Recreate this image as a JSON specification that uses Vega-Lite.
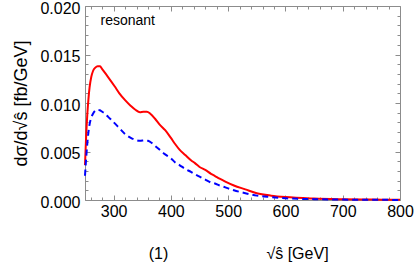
{
  "$schema": "https://vega.github.io/schema/vega-lite/v6.json",
  "width": 315,
  "height": 194,
  "autosize": "none",
  "padding": {"left": 85, "top": 6, "right": 15, "bottom": 67},
  "config": {
    "font": "Liberation Sans",
    "view": {"stroke": "#8c8c8c", "strokeWidth": 1},
    "axis": {
      "zindex": 1,
      "domain": false,
      "ticks": false,
      "domainColor": "#8c8c8c",
      "tickColor": "#8c8c8c",
      "tickWidth": 1,
      "labelColor": "#000000",
      "titleColor": "#000000",
      "labelFont": "Liberation Sans",
      "titleFont": "Liberation Sans",
      "labelFontSize": 16,
      "titleFontSize": 16,
      "titleFontWeight": "normal",
      "grid": false
    }
  },
  "data": {
    "values": [
      {"s": 250, "v": 0.0036, "curve": "a"},
      {"s": 252, "v": 0.0066, "curve": "a"},
      {"s": 254, "v": 0.0088, "curve": "a"},
      {"s": 256, "v": 0.0104, "curve": "a"},
      {"s": 258, "v": 0.0116, "curve": "a"},
      {"s": 261, "v": 0.0127, "curve": "a"},
      {"s": 264, "v": 0.0133, "curve": "a"},
      {"s": 268, "v": 0.01365, "curve": "a"},
      {"s": 272, "v": 0.0138, "curve": "a"},
      {"s": 276, "v": 0.01378, "curve": "a"},
      {"s": 280, "v": 0.0135, "curve": "a"},
      {"s": 285, "v": 0.0131, "curve": "a"},
      {"s": 290, "v": 0.0127, "curve": "a"},
      {"s": 302, "v": 0.0117, "curve": "a"},
      {"s": 310, "v": 0.011, "curve": "a"},
      {"s": 320, "v": 0.0103, "curve": "a"},
      {"s": 330, "v": 0.0097, "curve": "a"},
      {"s": 338, "v": 0.0093, "curve": "a"},
      {"s": 346, "v": 0.00905, "curve": "a"},
      {"s": 352, "v": 0.0091, "curve": "a"},
      {"s": 358, "v": 0.0091, "curve": "a"},
      {"s": 364, "v": 0.0089, "curve": "a"},
      {"s": 372, "v": 0.0084, "curve": "a"},
      {"s": 380, "v": 0.0078, "curve": "a"},
      {"s": 390, "v": 0.0072, "curve": "a"},
      {"s": 400, "v": 0.0064, "curve": "a"},
      {"s": 407, "v": 0.0058, "curve": "a"},
      {"s": 415, "v": 0.0052, "curve": "a"},
      {"s": 425, "v": 0.00464, "curve": "a"},
      {"s": 435, "v": 0.0041, "curve": "a"},
      {"s": 442, "v": 0.0038, "curve": "a"},
      {"s": 450, "v": 0.0034, "curve": "a"},
      {"s": 460, "v": 0.0031, "curve": "a"},
      {"s": 470, "v": 0.0027, "curve": "a"},
      {"s": 477, "v": 0.00247, "curve": "a"},
      {"s": 485, "v": 0.0022, "curve": "a"},
      {"s": 495, "v": 0.0019, "curve": "a"},
      {"s": 510, "v": 0.0015, "curve": "a"},
      {"s": 530, "v": 0.0011, "curve": "a"},
      {"s": 550, "v": 0.0007, "curve": "a"},
      {"s": 575, "v": 0.00045, "curve": "a"},
      {"s": 600, "v": 0.0003, "curve": "a"},
      {"s": 650, "v": 0.00015, "curve": "a"},
      {"s": 700, "v": 0.00008, "curve": "a"},
      {"s": 750, "v": 0.00004, "curve": "a"},
      {"s": 800, "v": 0.00002, "curve": "a"},
      {"s": 250, "v": 0.0025, "curve": "b"},
      {"s": 252, "v": 0.0043, "curve": "b"},
      {"s": 254, "v": 0.0058, "curve": "b"},
      {"s": 256, "v": 0.007, "curve": "b"},
      {"s": 258, "v": 0.0078, "curve": "b"},
      {"s": 261, "v": 0.0085, "curve": "b"},
      {"s": 264, "v": 0.0089, "curve": "b"},
      {"s": 268, "v": 0.0092, "curve": "b"},
      {"s": 272, "v": 0.0093, "curve": "b"},
      {"s": 276, "v": 0.00925, "curve": "b"},
      {"s": 280, "v": 0.0091, "curve": "b"},
      {"s": 285, "v": 0.0089, "curve": "b"},
      {"s": 290, "v": 0.0086, "curve": "b"},
      {"s": 302, "v": 0.0079, "curve": "b"},
      {"s": 310, "v": 0.0074, "curve": "b"},
      {"s": 320, "v": 0.0068, "curve": "b"},
      {"s": 330, "v": 0.0064, "curve": "b"},
      {"s": 338, "v": 0.0062, "curve": "b"},
      {"s": 346, "v": 0.0061, "curve": "b"},
      {"s": 354, "v": 0.00615, "curve": "b"},
      {"s": 360, "v": 0.0061, "curve": "b"},
      {"s": 366, "v": 0.0059, "curve": "b"},
      {"s": 372, "v": 0.0056, "curve": "b"},
      {"s": 380, "v": 0.0052, "curve": "b"},
      {"s": 390, "v": 0.0047, "curve": "b"},
      {"s": 400, "v": 0.0043, "curve": "b"},
      {"s": 407, "v": 0.0039, "curve": "b"},
      {"s": 415, "v": 0.0036, "curve": "b"},
      {"s": 425, "v": 0.0032, "curve": "b"},
      {"s": 435, "v": 0.0029, "curve": "b"},
      {"s": 442, "v": 0.00265, "curve": "b"},
      {"s": 450, "v": 0.0024, "curve": "b"},
      {"s": 460, "v": 0.0021, "curve": "b"},
      {"s": 470, "v": 0.0018, "curve": "b"},
      {"s": 477, "v": 0.0017, "curve": "b"},
      {"s": 485, "v": 0.0015, "curve": "b"},
      {"s": 495, "v": 0.0013, "curve": "b"},
      {"s": 510, "v": 0.001, "curve": "b"},
      {"s": 530, "v": 0.0007, "curve": "b"},
      {"s": 550, "v": 0.00045, "curve": "b"},
      {"s": 575, "v": 0.0003, "curve": "b"},
      {"s": 600, "v": 0.00018, "curve": "b"},
      {"s": 650, "v": 0.00009, "curve": "b"},
      {"s": 700, "v": 0.00004, "curve": "b"},
      {"s": 750, "v": 0.00002, "curve": "b"},
      {"s": 800, "v": 0.00001, "curve": "b"}
    ]
  },
  "layer": [
    {
      "transform": [{"filter": "datum.curve === 'a'"}],
      "mark": {"type": "line", "color": "#ff0000", "strokeWidth": 2, "interpolate": "monotone"},
      "encoding": {
        "x": {
          "field": "s", "type": "quantitative",
          "scale": {"domain": [250, 800], "nice": false, "zero": false},
          "axis": {
            "orient": "bottom", "domain": true,
            "values": [300, 400, 500, 600, 700, 800],
            "labelPadding": 3, "labelFlush": false,
            "title": "√ŝ [GeV]", "titleX": 212, "titleY": 58, "titleBaseline": "alphabetic", "titleAlign": "center"
          }
        },
        "y": {
          "field": "v", "type": "quantitative",
          "scale": {"domain": [0, 0.02], "nice": false},
          "axis": {
            "orient": "left", "domain": true,
            "values": [0, 0.005, 0.01, 0.015, 0.02],
            "format": ".3f",
            "labelPadding": 5, "labelFlush": false, "labelOffset": 2,
            "title": "dσ/d√ŝ   [fb/GeV]", "titleFontSize": 18, "titleX": -59, "titleY": 97, "titleBaseline": "alphabetic", "titleAlign": "center", "titleAngle": -90
          }
        }
      }
    },
    {
      "transform": [{"filter": "datum.curve === 'b'"}],
      "mark": {"type": "line", "color": "#0000ff", "strokeWidth": 2, "strokeDash": [6, 4], "interpolate": "monotone"},
      "encoding": {
        "x": {
          "field": "s", "type": "quantitative",
          "axis": {
            "orient": "bottom", "offset": -5,
            "values": [300, 400, 500, 600, 700],
            "ticks": true, "tickSize": 5, "labels": false,
            "title": "(1)", "titleX": 73, "titleY": 63, "titleBaseline": "alphabetic", "titleAlign": "center"
          }
        },
        "y": {
          "field": "v", "type": "quantitative",
          "axis": {
            "orient": "left", "offset": -5,
            "values": [0.005, 0.01, 0.015],
            "ticks": true, "tickSize": 5, "labels": false, "title": null
          }
        }
      }
    },
    {
      "mark": {"type": "line", "opacity": 0},
      "encoding": {
        "detail": {"field": "curve"},
        "x": {
          "field": "s", "type": "quantitative",
          "axis": {
            "orient": "bottom", "offset": -3,
            "values": [260, 280, 320, 340, 360, 380, 420, 440, 460, 480, 520, 540, 560, 580, 620, 640, 660, 680, 720, 740, 760, 780],
            "ticks": true, "tickSize": 3, "labels": false, "title": null
          }
        },
        "y": {
          "field": "v", "type": "quantitative",
          "axis": {
            "orient": "left", "offset": -3,
            "values": [0.001, 0.002, 0.003, 0.004, 0.006, 0.007, 0.008, 0.009, 0.011, 0.012, 0.013, 0.014, 0.016, 0.017, 0.018, 0.019],
            "ticks": true, "tickSize": 3, "labels": false, "title": null
          }
        }
      }
    },
    {
      "mark": {"type": "line", "opacity": 0},
      "encoding": {
        "detail": {"field": "curve"},
        "x": {
          "field": "s", "type": "quantitative",
          "axis": {
            "orient": "top", "offset": -5,
            "values": [300, 400, 500, 600, 700],
            "ticks": true, "tickSize": 5, "labels": false,
            "title": "resonant", "titleFontSize": 14, "titleAlign": "left", "titleX": 15, "titleY": 13, "titleBaseline": "alphabetic"
          }
        },
        "y": {
          "field": "v", "type": "quantitative",
          "axis": {"orient": "right", "offset": -5, "values": [0.005, 0.01, 0.015], "ticks": true, "tickSize": 5, "labels": false, "title": null}
        }
      }
    },
    {
      "mark": {"type": "line", "opacity": 0},
      "encoding": {
        "detail": {"field": "curve"},
        "x": {
          "field": "s", "type": "quantitative",
          "axis": {
            "orient": "top", "offset": -3,
            "values": [260, 280, 320, 340, 360, 380, 420, 440, 460, 480, 520, 540, 560, 580, 620, 640, 660, 680, 720, 740, 760, 780],
            "ticks": true, "tickSize": 3, "labels": false, "title": null
          }
        },
        "y": {
          "field": "v", "type": "quantitative",
          "axis": {
            "orient": "right", "offset": -3,
            "values": [0.001, 0.002, 0.003, 0.004, 0.006, 0.007, 0.008, 0.009, 0.011, 0.012, 0.013, 0.014, 0.016, 0.017, 0.018, 0.019],
            "ticks": true, "tickSize": 3, "labels": false, "title": null
          }
        }
      }
    },
    {
      "mark": {"type": "line", "opacity": 0},
      "encoding": {
        "detail": {"field": "curve"},
        "x": {
          "field": "s", "type": "quantitative",
          "axis": {"orient": "top", "domain": true, "labels": false, "title": null}
        },
        "y": {
          "field": "v", "type": "quantitative",
          "axis": {"orient": "right", "domain": true, "labels": false, "title": null}
        }
      }
    }
  ],
  "resolve": {"axis": {"x": "independent", "y": "independent"}}
}
